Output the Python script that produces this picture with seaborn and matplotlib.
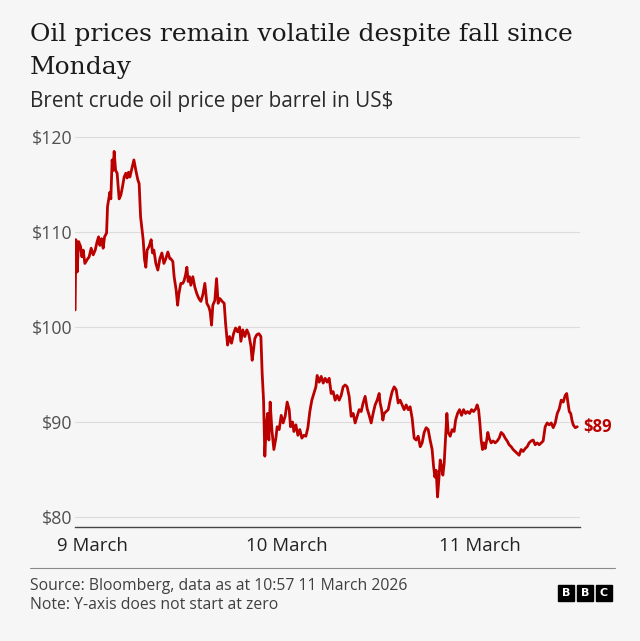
import pandas as pd
import numpy as np
import matplotlib.pyplot as plt
from matplotlib.patches import Rectangle
import seaborn as sns

# Brent crude, hours after midnight 9 March 2026
hours = [
    -2.20, -2.11, -1.95, -1.77, -1.53, -1.36, -1.20, -0.99, -0.71, -0.46,
    -0.21, 0.04, 0.29, 0.53, 0.71, 0.87, 1.08, 1.28, 1.45, 1.70,
    1.82, 1.95, 2.11, 2.23, 2.39, 2.52, 2.64, 2.82, 3.01, 3.26,
    3.47, 3.68, 3.88, 4.09, 4.25, 4.43, 4.59, 4.84, 5.09, 5.33,
    5.58, 5.74, 5.92, 6.08, 6.24, 6.41, 6.57, 6.73, 6.98, 7.23,
    7.40, 7.57, 7.81, 8.06, 8.31, 8.56, 8.81, 9.05, 9.30, 9.55,
    9.67, 9.92, 10.08, 10.33, 10.51, 10.67, 10.91, 11.16, 11.32, 11.50,
    11.66, 11.82, 11.99, 12.15, 12.40, 12.65, 12.90, 13.15, 13.40, 13.64,
    13.89, 14.14, 14.39, 14.55, 14.72, 14.88, 15.13, 15.34, 15.54, 15.75,
    16.04, 16.29, 16.46, 16.71, 16.95, 17.20, 17.45, 17.70, 17.95, 18.20,
    18.36, 18.60, 18.85, 19.10, 19.35, 19.60, 19.76, 19.93, 20.09, 20.34,
    20.59, 20.84, 21.00, 21.17, 21.33, 21.49, 21.67, 21.83, 21.99,
    22.20, 22.45, 22.70, 22.86, 23.11, 23.36, 23.60, 23.85, 24.10, 24.35,
    24.52, 24.77, 24.93, 25.18, 25.43, 25.67, 25.92, 26.17, 26.42, 26.67,
    26.91, 27.16, 27.41, 27.66, 27.82, 28.07, 28.32, 28.57, 28.81, 29.06,
    29.31, 29.56, 29.80, 30.05, 30.30, 30.55, 30.80, 31.04, 31.29, 31.54,
    31.79, 32.04, 32.29, 32.53, 32.78, 33.03, 33.28, 33.52, 33.77, 34.02,
    34.27, 34.52, 34.76, 35.01, 35.26, 35.51,
    35.63, 35.81, 35.97, 36.13, 36.38, 36.63, 36.87, 37.12, 37.37, 37.62,
    37.87, 38.11, 38.36, 38.61, 38.86, 39.11, 39.35, 39.60, 39.85, 40.10,
    40.35, 40.60, 40.84, 41.09, 41.34, 41.59, 41.83, 42.08, 42.26, 42.42,
    42.58, 42.75, 42.91, 43.08, 43.25, 43.41, 43.57, 43.75, 43.91, 44.07,
    44.32, 44.56, 44.81, 44.99, 45.23, 45.48, 45.73, 45.98, 46.23, 46.47,
    46.72, 46.97, 47.22,
    47.50, 47.66, 47.84, 48.00, 48.16, 48.33, 48.50, 48.66, 48.83, 48.99,
    49.15, 49.40, 49.65, 49.90, 50.15, 50.39, 50.64, 50.89, 51.14, 51.39,
    51.63, 51.88, 52.13, 52.38, 52.63, 52.87, 53.12, 53.37, 53.62, 53.87,
    54.11, 54.36, 54.61, 54.86, 55.11, 55.36, 55.60, 55.85, 56.10, 56.35,
    56.60, 56.85, 57.10, 57.35, 57.60, 57.85, 58.09, 58.34, 58.59, 58.77,
    58.93, 59.09, 59.27, 59.42, 59.58, 59.83, 60.08,
]
prices = [
    101.8, 109.2, 105.8, 109.0, 108.5, 107.4, 108.1, 106.7, 107.1, 107.4,
    108.3, 107.6, 108.1, 109.0, 109.5, 108.6, 109.3, 108.3, 109.5, 109.9,
    112.7, 113.4, 114.2, 113.5, 117.6, 116.5, 118.5, 116.5, 116.2, 113.5,
    113.9, 114.8, 115.8, 116.2, 115.7, 116.3, 115.8, 116.7, 117.6, 116.5,
    115.5, 115.1, 111.6, 110.4, 109.2, 107.1, 106.3, 108.1, 108.5, 109.2,
    107.8, 108.1, 106.7, 106.0, 107.2, 107.8, 106.7, 107.2, 107.9, 107.2,
    107.2, 106.9, 105.3, 103.9, 102.3, 103.5, 104.6, 104.6, 104.9, 105.5,
    106.3, 104.8, 105.3, 104.4, 105.3, 104.2, 103.5, 103.0, 102.7, 103.4,
    104.6, 102.5, 102.1, 101.6, 100.2, 102.3, 102.8, 105.1, 102.5, 103.0,
    102.7, 102.5, 100.4, 98.1, 99.0, 98.3, 99.3, 99.9, 99.5, 100.0,
    98.5, 99.7, 99.0, 99.7, 99.2, 98.0, 96.5, 97.6, 98.8, 99.2,
    99.3, 99.0, 95.1, 92.3, 86.4, 89.5, 90.9, 88.1, 92.1,
    89.2, 87.1, 88.3, 89.5, 89.2, 90.7, 89.9, 90.6, 92.1, 91.3,
    89.5, 90.0, 89.0, 89.7, 88.6, 89.2, 88.3, 88.6, 88.5, 89.4,
    91.1, 92.3, 93.0, 93.7, 94.9, 94.2, 94.8, 94.1, 94.6, 94.2,
    94.6, 93.0, 93.2, 92.3, 92.8, 92.3, 92.8, 93.7, 93.9, 93.7,
    92.7, 90.6, 90.9, 89.9, 90.6, 91.3, 91.1, 92.0, 92.7, 91.4,
    90.7, 89.9, 90.9, 91.8, 92.3, 93.0,
    92.0, 91.3, 90.2, 90.9, 91.1, 91.3, 92.3, 93.2, 93.7, 93.4,
    92.0, 92.3, 91.8, 91.3, 91.8, 91.3, 91.6, 90.4, 88.3, 88.1,
    88.5, 87.4, 87.8, 88.9, 89.4, 89.2, 88.1, 87.1, 85.3, 84.2,
    84.9, 82.1, 83.9, 86.0, 85.3, 84.4, 85.6, 88.5, 90.9, 88.9,
    88.5, 89.2, 89.0, 90.2, 90.9, 91.3, 90.7, 91.3, 90.9, 91.1,
    90.9, 91.3, 91.1,
    91.4, 91.8, 91.3, 89.9, 88.1, 87.1, 87.8, 87.2, 88.0, 88.9,
    88.3, 87.8, 88.0, 87.8, 88.0, 88.3, 88.9, 88.7, 88.3, 88.0,
    87.6, 87.4, 87.1, 86.9, 86.7, 86.5, 87.1, 86.9, 87.2, 87.4,
    87.8, 88.0, 88.1, 87.6, 87.8, 87.6, 87.8, 88.0, 89.5, 89.9,
    89.7, 89.9, 89.4, 89.9, 90.9, 91.4, 92.3, 92.1, 92.8, 93.0,
    92.0, 91.1, 90.9, 90.2, 89.7, 89.4, 89.5,
]
y_ticks = [80, 90, 100, 110, 120]
day_ticks = ["2026-03-09", "2026-03-10", "2026-03-11"]
day_labels = ["9 March", "10 March", "11 March"]
last_label = "$89"

start = pd.Timestamp("2026-03-09")
df = pd.DataFrame({
    "time": start + pd.to_timedelta(hours, unit="h"),
    "price": prices,
})

bg = "#f6f6f6"
red = "#bb0000"
sns.set_style("white")
plt.rcParams["font.family"] = ["Open Sans", "DejaVu Sans"]

fig = plt.figure(figsize=(6.4, 6.41), dpi=100, facecolor=bg)
ax = fig.add_axes([0.117, 0.178, 0.789, 0.619])
ax.set_facecolor(bg)

sns.lineplot(data=df, x="time", y="price", color=red, linewidth=2.0, ax=ax)

ax.set_ylim(78.95, 120.74)
ax.set_xlim(start + pd.to_timedelta(-2.23, unit="h"),
            start + pd.to_timedelta(60.40, unit="h"))
ax.set_yticks(y_ticks)
ax.set_yticklabels([f"${v}" for v in y_ticks])
ax.set_xticks(pd.to_datetime(day_ticks))
ax.set_xticklabels(day_labels)
ax.set_xlabel("")
ax.set_ylabel("")

for v in y_ticks:
    ax.axhline(v, color="#dcdcdc", linewidth=0.8, zorder=0)

for s in ["top", "right", "left"]:
    ax.spines[s].set_visible(False)
ax.spines["bottom"].set_color("#444444")
ax.spines["bottom"].set_linewidth(1.0)
ax.tick_params(axis="y", length=0, pad=2, labelsize=12.8, labelcolor="#505050")
ax.tick_params(axis="x", length=5, width=1, color="#444444", pad=2,
               labelsize=13.4, labelcolor="#222222")

ax.annotate(last_label, xy=(df["time"].iloc[-1], df["price"].iloc[-1]),
            xytext=(4, 0), textcoords="offset points", va="center",
            ha="left", color=red, fontsize=12, fontweight="bold")

# titles
fig.text(30 / 640, 1 - 41 / 641, "Oil prices remain volatile despite fall since",
         family="DejaVu Serif", fontsize=18, color="#1a1a1a", va="baseline")
fig.text(30 / 640, 1 - 74 / 641, "Monday",
         family="DejaVu Serif", fontsize=18, color="#1a1a1a", va="baseline")
fig.text(30 / 640, 1 - 107 / 641, "Brent crude oil price per barrel in US$",
         fontsize=14.9, color="#2a2a2a", va="baseline")

# footer
fig.add_artist(plt.Line2D([30 / 640, 615 / 640], [1 - 568 / 641, 1 - 568 / 641],
                          color="#8a8a8a", linewidth=0.8))
fig.text(30 / 640, 1 - 590 / 641, "Source: Bloomberg, data as at 10:57 11 March 2026",
         fontsize=11.3, color="#404040", va="baseline")
fig.text(30 / 640, 1 - 609 / 641, "Note: Y-axis does not start at zero",
         fontsize=11.3, color="#404040", va="baseline")

# BBC blocks
for i, ch in enumerate("BBC"):
    x0 = (558 + i * 19) / 640
    fig.add_artist(Rectangle((x0, 1 - 601 / 641), 16 / 640, 16 / 641,
                             transform=fig.transFigure, color="black"))
    fig.text(x0 + 8 / 640, 1 - 593 / 641, ch, color="white", fontsize=8,
             family="DejaVu Sans", fontweight="bold", ha="center", va="center")

fig.savefig("out.png", dpi=100, facecolor=bg)
